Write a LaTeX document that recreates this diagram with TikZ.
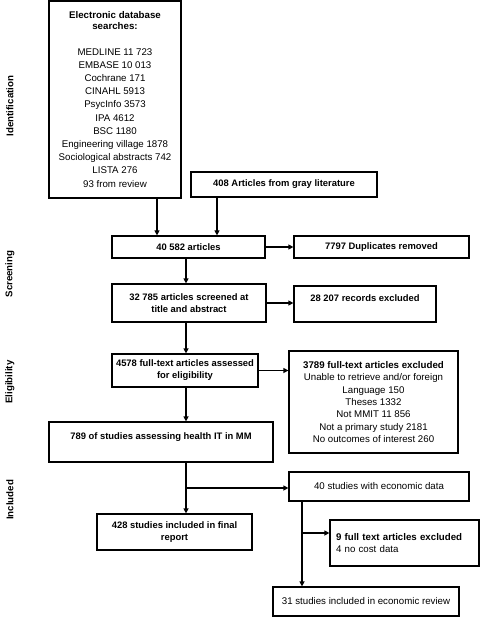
\documentclass[tikz,border=0pt]{standalone}
\usepackage{fontspec}
\setmainfont{Liberation Sans}
\usetikzlibrary{arrows.meta}
\begin{document}
\begin{tikzpicture}[x=1pt,y=-1pt,
  box/.style={draw, line width=1.2pt, inner sep=0pt, align=center,
    font=\fontsize{9.7}{12}\selectfont},
  bbox/.style={box, font=\fontsize{9.4}{12}\selectfont\bfseries},
  arr/.style={line width=1.2pt, -{Triangle[length=5pt,width=5pt]}},
  side/.style={rotate=90, font=\fontsize{9.7}{12}\selectfont\bfseries}]
\useasboundingbox (0,0) rectangle (480,617);

% side labels
\node[side] (lid) at (10,106) {Identification};
\node[side] (lsc) at (10,274) {Screening};
\node[side] (lel) at (10,382) {Eligibility};
\node[side] (lin) at (10,500) {Included};

% boxes
\node[box, minimum width=132, minimum height=197,
  font=\fontsize{9.7}{13.2}\selectfont] (db) at (115,99.5)
  {\textbf{Electronic database}\\[-2pt]\textbf{searches:}\\[12pt]
   MEDLINE 11 723\\EMBASE 10 013\\Cochrane 171\\CINAHL 5913\\PsycInfo 3573\\
   IPA 4612\\BSC 1180\\Engineering village 1878\\Sociological abstracts 742\\
   LISTA 276\\93 from review};
\node[bbox, minimum width=186, minimum height=25] (gray) at (284,184.5)
  {408 Articles from gray literature};
\node[bbox, minimum width=153, minimum height=22] (a40) at (188.5,247)
  {40 582 articles};
\node[bbox, minimum width=175, minimum height=22] (dup) at (381.5,247)
  {7797 Duplicates removed};
\node[bbox, minimum width=154, minimum height=38] (s32) at (189,303)
  {32 785 articles screened at\\title and abstract};
\node[bbox, minimum width=142, minimum height=36] (r28) at (365,304)
  {28 207 records excluded\\\mbox{}};
\node[bbox, minimum width=146, minimum height=33] (f45) at (185,370.5)
  {4578 full-text articles assessed\\for eligibility};
\node[box, minimum width=169, minimum height=102,
  font=\fontsize{9.7}{12.3}\selectfont] (x37) at (373.5,402)
  {\textbf{3789 full-text articles excluded}\\Unable to retrieve and/or foreign\\
   Language 150\\Theses 1332\\Not MMIT 11 856\\Not a primary study 2181\\
   No outcomes of interest 260};
\node[bbox, minimum width=224, minimum height=40] (s789) at (161,442)
  {789 of studies assessing health IT in MM\\\mbox{}};
\node[box, minimum width=180, minimum height=29] (s40) at (379,486.5)
  {40 studies with economic data};
\node[bbox, minimum width=155, minimum height=36] (s428) at (174.5,532)
  {428 studies included in final\\report};
\node[box, minimum width=149, minimum height=46, align=left,
  text width=137] (x9) at (404.5,543)
  {\textbf{9 full text articles excluded}\\4 no cost data};
\node[box, minimum width=186, minimum height=29] (s31) at (366,601.5)
  {31 studies included in economic review};

% connectors
\draw[arr] (157,0 |- db.south) -- (157,0 |- a40.north);
\draw[arr] (217,0 |- gray.south) -- (217,0 |- a40.north);
\draw[arr] (a40.east) -- (a40.east -| dup.west);
\draw[arr] (186,0 |- a40.south) -- (186,0 |- s32.north);
\draw[arr] (s32.east) -- (s32.east -| r28.west);
\draw[arr] (186,0 |- s32.south) -- (186,0 |- f45.north);
\draw[arr] (f45.east) -- (f45.east -| x37.west);
\draw[arr] (186,0 |- f45.south) -- (186,0 |- s789.north);
\draw[arr] (186,0 |- s789.south) -- (186,0 |- s428.north);
\coordinate (j1) at (186,488);
\draw[arr] (j1) -- (j1 -| s40.west);
\draw[arr] (302,0 |- s40.south) -- (302,0 |- s31.north);
\coordinate (j2) at (302,533);
\draw[arr] (j2) -- (j2 -| x9.west);
\end{tikzpicture}
\end{document}
